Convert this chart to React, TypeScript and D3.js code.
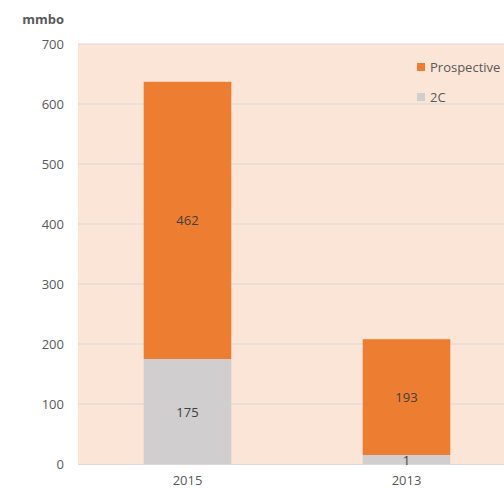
import { useEffect, useRef } from 'react';
import * as d3 from 'd3';

const categories = ['2015', '2013'];
const series2C = [175, 15];
const seriesProspective = [462, 193];
const labels2C = ['175', '1'];
const labelsProspective = ['462', '193'];
const yTicks = [0, 100, 200, 300, 400, 500, 600, 700];

const ORANGE = '#ed7d31';
const GRAY = '#d0cece';
const BG = '#fbe5d6';
const FONT = '"Open Sans", "Liberation Sans", sans-serif';

export default function App() {
  const svgRef = useRef<SVGSVGElement>(null);

  useEffect(() => {
    if (!svgRef.current) return;
    const svg = d3.select(svgRef.current);
    svg.selectAll('*').remove();

    const margin = { top: 44, left: 78, bottom: 25 };
    const height = 489;
    const plotRight = 516;
    const innerH = height - margin.top - margin.bottom;

    const x = d3.scaleBand()
      .domain(categories)
      .range([margin.left, plotRight])
      .paddingInner(0.6)
      .paddingOuter(0.3);

    const y = d3.scaleLinear()
      .domain([0, 700])
      .range([margin.top + innerH, margin.top]);

    // fondo del área de trazado
    svg.append('rect')
      .attr('x', margin.left)
      .attr('y', margin.top)
      .attr('width', plotRight - margin.left)
      .attr('height', innerH)
      .attr('fill', BG);

    // gridlines
    svg.append('g')
      .selectAll('line')
      .data(yTicks.filter(d => d > 0))
      .join('line')
      .attr('x1', margin.left)
      .attr('x2', plotRight)
      .attr('y1', d => y(d))
      .attr('y2', d => y(d))
      .attr('stroke', '#d9d9d9')
      .attr('stroke-width', 1);

    svg.append('line')
      .attr('x1', margin.left)
      .attr('x2', plotRight)
      .attr('y1', y(0) + 0.5)
      .attr('y2', y(0) + 0.5)
      .attr('stroke', '#d9d9d9');

    svg.append('g')
      .selectAll('text')
      .data(yTicks)
      .join('text')
      .attr('x', 64)
      .attr('y', d => y(d) + 5)
      .attr('text-anchor', 'end')
      .attr('font-family', FONT)
      .attr('font-size', 13)
      .attr('fill', '#595959')
      .text(d => d);

    svg.append('text')
      .attr('x', 64)
      .attr('y', 24)
      .attr('text-anchor', 'end')
      .attr('font-family', FONT)
      .attr('font-size', 13)
      .attr('font-weight', 'bold')
      .attr('fill', '#595959')
      .text('mmbo');

    // barras apiladas
    const bw = x.bandwidth();
    categories.forEach((c, i) => {
      const x0 = x(c)!;
      svg.append('rect')
        .attr('x', x0)
        .attr('y', y(series2C[i]))
        .attr('width', bw)
        .attr('height', y(0) - y(series2C[i]))
        .attr('fill', GRAY);
      svg.append('rect')
        .attr('x', x0)
        .attr('y', y(series2C[i] + seriesProspective[i]))
        .attr('width', bw)
        .attr('height', y(series2C[i]) - y(series2C[i] + seriesProspective[i]))
        .attr('fill', ORANGE);

      svg.append('text')
        .attr('x', x0 + bw / 2)
        .attr('y', (y(0) + y(series2C[i])) / 2 + 5)
        .attr('text-anchor', 'middle')
        .attr('font-family', FONT)
        .attr('font-size', 13)
        .attr('fill', '#404040')
        .text(labels2C[i]);
      svg.append('text')
        .attr('x', x0 + bw / 2)
        .attr('y', (y(series2C[i]) + y(series2C[i] + seriesProspective[i])) / 2 + 5)
        .attr('text-anchor', 'middle')
        .attr('font-family', FONT)
        .attr('font-size', 13)
        .attr('fill', '#404040')
        .text(labelsProspective[i]);

      svg.append('text')
        .attr('x', x0 + bw / 2)
        .attr('y', 485)
        .attr('text-anchor', 'middle')
        .attr('font-family', FONT)
        .attr('font-size', 13)
        .attr('fill', '#595959')
        .text(c);
    });

    // leyenda
    const legend = [
      { name: 'Prospective', color: ORANGE },
      { name: '2C', color: GRAY },
    ];
    legend.forEach((l, i) => {
      const ly = 67 + i * 30;
      svg.append('rect')
        .attr('x', 417)
        .attr('y', ly - 4)
        .attr('width', 8)
        .attr('height', 8)
        .attr('fill', l.color);
      svg.append('text')
        .attr('x', 430)
        .attr('y', ly + 5)
        .attr('font-family', FONT)
        .attr('font-size', 13)
        .attr('fill', '#595959')
        .text(l.name);
    });
  }, []);

  return (
    <svg
      ref={svgRef}
      width={504}
      height={489}
      style={{ position: 'absolute', left: 0, top: 0, background: '#fff' }}
    />
  );
}
